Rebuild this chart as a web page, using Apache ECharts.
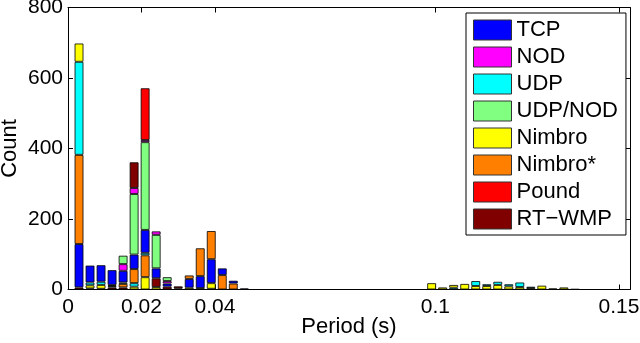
<!DOCTYPE html>
<html>
<head>
<meta charset="utf-8">
<script src="https://cdn.jsdelivr.net/npm/echarts@6/dist/echarts.min.js"></script>
<style>html,body{margin:0;padding:0;background:#fff}#c{width:640px;height:343px}</style>
</head>
<body>
<div id="c"></div>
<script>
// bin centres (Period, s)
var periods = [0.003,0.006,0.009,0.012,0.015,0.018,0.021,0.024,0.027,0.030,0.033,0.036,0.039,0.042,0.045,0.048,
               0.099,0.102,0.105,0.108,0.111,0.114,0.117,0.120,0.123,0.126,0.129,0.132,0.135,0.138];
// counts per series, aligned with periods
var tcp        = [123,48,47,42,33,41,65,28,9,0,25,34,68,19,8,3, 0,0,0,0,0,0,0,0,0,0,0,0,0,0];
var nod        = [0,0,0,0,19,17,6,10,7,0,0,0,0,0,0,0, 0,0,0,0,0,0,0,0,0,0,0,0,0,0];
var udp        = [264,8,9,3,4,10,7,0,0,0,0,0,0,0,0,0, 0,0,5,0,14,5,9,6,13,4,0,0,0,0];
var udpNod     = [0,0,0,4,24,172,249,95,11,0,0,0,0,0,0,0, 0,0,0,0,0,0,0,0,0,0,0,0,0,0];
var nimbro     = [52,9,11,0,0,8,35,7,0,3,5,4,16,0,0,0, 18,6,8,16,10,10,13,9,7,4,11,3,6,1];
var nimbroStar = [253,0,0,0,10,40,62,0,0,0,10,79,80,41,17,0, 0,0,0,0,0,0,0,0,0,0,0,0,0,0];
var pound      = [0,0,0,0,0,0,147,0,0,0,0,0,0,0,0,0, 0,0,0,0,0,0,0,0,0,0,0,0,0,0];
var rtwmp      = [6,3,2,6,6,73,0,25,8,6,0,0,2,0,0,0, 0,0,0,0,0,0,0,0,0,0,0,0,0,0];
// stacking order in each bin, bottom to top
// T=TCP N=NOD U=UDP G=UDP/NOD Y=Nimbro O=Nimbro* P=Pound R=RT-WMP
var stackOrder = ['RTOUY','RYUT','RYUT','RGUT','ROUTNG','YUOTGNR','YOUTGNP','YRTGN','RTNG','YR','YTO','YTO','RYTO','OT','OT','T',
                  'Y','Y','UY','Y','YU','YU','YU','YU','YU','YU','Y','Y','Y','Y'];
var seriesNames = ['TCP','NOD','UDP','UDP/NOD','Nimbro','Nimbro*','Pound','RT\u2212WMP'];
var xTicks = [0,0.02,0.04,0.1,0.15];
var binWidth = 0.003, xMax = 0.153;

var values = {T:tcp,N:nod,U:udp,G:udpNod,Y:nimbro,O:nimbroStar,P:pound,R:rtwmp};
var colors = {T:'#0000ff',N:'#ff00ff',U:'#00ffff',G:'#80ff80',Y:'#ffff00',O:'#ff8000',P:'#ff0000',R:'#800000'};
var keys = ['T','N','U','G','Y','O','P','R'];

// evenly spaced bin slots from 0 to xMax for the (hidden) category axis
var nSlots = Math.round(xMax/binWidth) + 1;
var slots = [];
for (var s=0;s<nSlots;s++) slots.push((s*binWidth).toFixed(3));
var slotOf = periods.map(function(p){ return Math.round(p/binWidth); });

var series = [];
keys.forEach(function(k,i){
  series.push({name:seriesNames[i],type:'bar',stack:'all',data:[],xAxisIndex:0,itemStyle:{color:colors[k]}});
});
var maxLayers = 0;
stackOrder.forEach(function(s){ if(s.length>maxLayers) maxLayers=s.length; });
for (var j=0;j<maxLayers;j++){
  var data = slots.map(function(){ return '-'; });
  periods.forEach(function(p,i){
    var k = stackOrder[i][j];
    if(!k || !values[k][i]) return;
    data[slotOf[i]] = {value:values[k][i], itemStyle:{color:colors[k]}};
  });
  series.push({name:'layer'+j,type:'bar',stack:'all',barWidth:9,xAxisIndex:0,data:data,
    itemStyle:{borderColor:'rgba(0,0,0,0.8)',borderWidth:1}});
}

var font = '"Liberation Sans", Arial, Helvetica, sans-serif';
var chart = echarts.init(document.getElementById('c'),null,{renderer:'canvas'});
chart.setOption({
  animation:false,
  backgroundColor:'#fff',
  textStyle:{fontFamily:font,color:'#000'},
  grid:{left:68,top:7.5,right:10,bottom:53.5,show:false,containLabel:false,outerBoundsMode:'none'},
  legend:{
    data:seriesNames, orient:'vertical', left:466, top:13,
    itemWidth:38, itemHeight:20, itemGap:5,
    padding:[6,8,5,7], borderColor:'#000', borderWidth:1, backgroundColor:'#fff',
    icon:'rect',
    itemStyle:{borderColor:'#333',borderWidth:1},
    textStyle:{fontSize:22,fontFamily:font,color:'#000'}
  },
  xAxis:[{
    type:'category', data:slots, boundaryGap:false, show:false
  },{
    type:'value', min:0, max:xMax, position:'bottom', name:'Period (s)', nameLocation:'middle', nameGap:26,
    nameMoveOverlap:false,
    nameTextStyle:{fontSize:22,fontFamily:font,color:'#000'},
    axisLine:{show:true,onZero:false,lineStyle:{color:'#000',width:1}},
    axisTick:{show:true,inside:true,length:5,customValues:xTicks,lineStyle:{color:'#000'}},
    axisLabel:{show:true,customValues:xTicks,fontSize:21,fontFamily:font,color:'#000',margin:7},
    splitLine:{show:false}
  },{
    type:'value', min:0, max:xMax, position:'top',
    axisLine:{show:true,onZero:false,lineStyle:{color:'#000',width:1}},
    axisTick:{show:true,inside:true,length:5,customValues:xTicks,lineStyle:{color:'#000'}},
    axisLabel:{show:false}, splitLine:{show:false}
  }],
  yAxis:[{
    type:'value', min:0, max:800, interval:200, name:'Count', nameLocation:'middle', nameGap:47,
    nameMoveOverlap:false,
    nameTextStyle:{fontSize:22,fontFamily:font,color:'#000'},
    axisLine:{show:true,onZero:false,lineStyle:{color:'#000',width:1}},
    axisTick:{show:true,inside:true,length:5,lineStyle:{color:'#000'}},
    axisLabel:{fontSize:21,fontFamily:font,color:'#000',margin:5},
    splitLine:{show:false}
  },{
    type:'value', min:0, max:800, interval:200, position:'right',
    axisLine:{show:true,onZero:false,lineStyle:{color:'#000',width:1}},
    axisTick:{show:true,inside:true,length:5,lineStyle:{color:'#000'}},
    axisLabel:{show:false}, splitLine:{show:false}
  }],
  series:series
});
</script>
</body>
</html>
